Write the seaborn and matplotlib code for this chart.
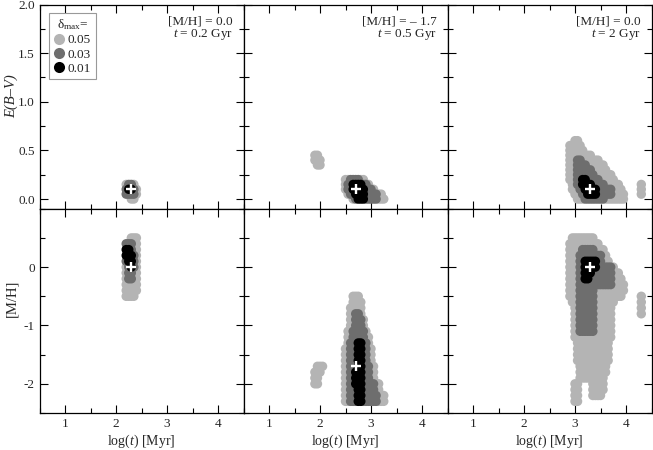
import numpy as np
import pandas as pd
import matplotlib
matplotlib.use("Agg")
import matplotlib.pyplot as plt
from matplotlib.lines import Line2D
from matplotlib.ticker import MultipleLocator, FixedLocator, FormatStrFormatter
import seaborn as sns

sns.set_theme(style="ticks")
plt.rcParams["font.family"] = ["Liberation Serif", "DejaVu Serif"]
plt.rcParams["mathtext.fontset"] = "custom"
plt.rcParams["mathtext.rm"] = "Liberation Serif"
plt.rcParams["mathtext.it"] = "Liberation Serif:italic"
plt.rcParams["axes.unicode_minus"] = False

# ---------------- data ----------------
DELTA_LEVELS = ["0.05", "0.03", "0.01"]
DELTA_CODES = {"a": "0.05", "b": "0.03", "c": "0.01"}
DELTA_COLORS = ["#b4b4b4", "#6e6e6e", "#000000"]

MH_TRUE = ["0.0", "\u2013 1.7", "0.0"]
AGE_TRUE = ["0.2", "0.5", "2"]
BEST_LOGT = [2.3, 2.7, 3.3]
BEST_EBV = [0.1, 0.1, 0.1]
BEST_MH = [0.0, -1.7, 0.0]

EBV_TICKS = [0.0, 0.5, 1.0, 1.5, 2.0]
MH_TICKS = [-2, -1, 0]
LOGT_TICKS = [1, 2, 3, 4]

LOGT_GRID_A = [2.15, 2.20, 2.25, 2.30, 2.35, 2.40, 2.45]
LOGT_GRID_B = [1.85, 1.90, 1.95, 2.00, 2.05, 2.10, 2.15, 2.20, 2.25, 2.30,
               2.35, 2.40, 2.45, 2.50, 2.55, 2.60, 2.65, 2.70, 2.75, 2.80,
               2.85, 2.90, 2.95, 3.00, 3.05, 3.10, 3.15, 3.20, 3.25, 3.30]
LOGT_GRID_C = [2.85, 2.90, 2.95, 3.00, 3.05, 3.10, 3.15, 3.20, 3.25, 3.30,
               3.35, 3.40, 3.45, 3.50, 3.55, 3.60, 3.65, 3.70, 3.75, 3.80,
               3.85, 3.90, 3.95, 4.00, 4.05, 4.10, 4.15, 4.20, 4.25, 4.30, 4.35]

# E(B-V) panels
EBV_ROWS_1 = [0.15, 0.10, 0.05, 0.00]
EBV_MASK_1 = [
    ".abba..",
    ".bccba.",
    ".bbbba.",
    "...aa..",
]
EBV_ROWS_2 = [0.45, 0.40, 0.35, 0.30, 0.25, 0.20, 0.15, 0.10, 0.05, 0.00]
EBV_MASK_2 = [
    ".aa...........................",
    ".aaa..........................",
    "..aa..........................",
    "..............................",
    "..............................",
    ".............aabbbbaa.........",
    ".............abbccccbba.......",
    ".............abbcccccbbba.....",
    "..............abbccccbbbbbaa..",
    "................abcccbbbbbaaa.",
]
EBV_ROWS_3 = [0.60, 0.55, 0.50, 0.45, 0.40, 0.35, 0.30, 0.25, 0.20, 0.15,
              0.10, 0.05, 0.00]
EBV_MASK_3 = [
    "...aa..........................",
    ".aaaaa.........................",
    ".aaaaaa........................",
    ".aaaaaaaaa.....................",
    ".aaabbaaaaaaa..................",
    ".aaabbbbaaaaaaa................",
    ".aaabbbbbbaaaaaa...............",
    ".aaabbbbbbbaaaaaaa.............",
    ".aaabbccbbbbbaaaaaa............",
    "..aabbccccbbbbbaaaaaa........a.",
    "..aaabbcccccbbbbbbaaaa.......a.",
    "...aaabbccccbbbbbbaaaaa......a.",
    "....aaabbbbbbbbaaaaaaaa........",
]

# [M/H] panels
MH_ROWS_1 = [0.5, 0.4, 0.3, 0.2, 0.1, 0.0, -0.1, -0.2, -0.3, -0.4, -0.5]
MH_MASK_1 = [
    "...aaa.",
    ".bbbaa.",
    ".ccbaa.",
    ".cccba.",
    ".bccba.",
    ".abcba.",
    ".abbaa.",
    ".abbaa.",
    ".aaaaa.",
    ".aaaaa.",
    ".aaaa..",
]
MH_ROWS_2 = [-0.5, -0.6, -0.7, -0.8, -0.9, -1.0, -1.1, -1.2, -1.3, -1.4,
             -1.5, -1.6, -1.7, -1.8, -1.9, -2.0, -2.1, -2.2, -2.3]
MH_MASK_2 = [
    "................aaa...........",
    "................aaaa..........",
    "...............aaaaa..........",
    "...............aabba..........",
    "...............aabbba.........",
    "...............aabbba.........",
    "..............aabbbbba........",
    "..............aabbbbbaa.......",
    "..............abbbccbba.......",
    ".............aabbbccbbaa......",
    ".............aabbbccbbaa......",
    ".............aabbbccbbaa......",
    "..aaa........aabbbccbbbaa.....",
    ".aaa.........aabbcccbbbaa.....",
    ".aa..........aabbcccbbbaa.....",
    ".aa..........aabbcccbbbbbaa...",
    ".............aabbbccbbbbbaa...",
    ".............aabbbccbbbbbbaaa.",
    ".............aabbbccbbbbbbaaa.",
]
MH_ROWS_3 = [0.5, 0.4, 0.3, 0.2, 0.1, 0.0, -0.1, -0.2, -0.3, -0.4, -0.5,
             -0.6, -0.7, -0.8, -0.9, -1.0, -1.1, -1.2, -1.3, -1.4, -1.5,
             -1.6, -1.7, -1.8, -1.9, -2.0, -2.1, -2.2, -2.3]
MH_MASK_3 = [
    "..aaaaaaaaa....................",
    ".aaaaaaaaaaaa..................",
    ".aaaaabbbbbaaaa................",
    ".aaaabbbbbbbbbaa...............",
    ".aaaabbcccccbbaaa..............",
    ".aaaabbcccccbbbbbba............",
    ".aaaabbcccbbbbbbbbaaa..........",
    ".aaaabbccbbbbbbbbbaaaa.........",
    ".aaaabbbbbbbbbbbbbaaaaa........",
    ".aaaabbbbbbaaaaaaaaaaaa........",
    ".aaaabbbbbbaaaaaaaaaaa.......a.",
    "..aaabbbbbbaaaaaaaa..........a.",
    "...aabbbbbbaaaaaaa...........a.",
    "...aabbbbbbaaaaaaa...........a.",
    "...aabbbbbbaaaaaaa.............",
    "...aabbbbbbaaaaaaa.............",
    "...aabbbbbbaaaaaaa.............",
    "...aaaaaaaaaaaaaaa.............",
    "....aaaaaaaaaaaaa..............",
    "....aaaaaaaaaaaaa..............",
    "....aaaaaaaaaaaaa..............",
    "....aaaaaaaaaaaaa..............",
    ".....aaaaaaaaaaa...............",
    ".....aaaaaaaaaaa...............",
    ".....aaaaaaaaaa................",
    "...aa.....aaaaa................",
    "...aa.....aaaaa................",
    "...aa.....aaaa.................",
    "...aa..........................",
]


def mask_frame(xgrid, ygrid, rows):
    recs = []
    for yv, row in zip(ygrid, rows):
        for xv, ch in zip(xgrid, row):
            if ch in DELTA_CODES:
                recs.append((xv, yv, DELTA_CODES[ch]))
    df = pd.DataFrame(recs, columns=["logt", "val", "delta"])
    df["order"] = df["delta"].map({d: i for i, d in enumerate(DELTA_LEVELS)})
    return df.sort_values("order", kind="stable")


panels_top = [
    mask_frame(LOGT_GRID_A, EBV_ROWS_1, EBV_MASK_1),
    mask_frame(LOGT_GRID_B, EBV_ROWS_2, EBV_MASK_2),
    mask_frame(LOGT_GRID_C, EBV_ROWS_3, EBV_MASK_3),
]
panels_bot = [
    mask_frame(LOGT_GRID_A, MH_ROWS_1, MH_MASK_1),
    mask_frame(LOGT_GRID_B, MH_ROWS_2, MH_MASK_2),
    mask_frame(LOGT_GRID_C, MH_ROWS_3, MH_MASK_3),
]

# ---------------- plot ----------------
W, H = 653, 450
fig, axes = plt.subplots(2, 3, figsize=(W / 100, H / 100), dpi=100,
                         sharex=True, sharey="row")
fig.subplots_adjust(left=39.5 / W, right=651.5 / W, top=1 - 4.5 / H,
                    bottom=1 - 413 / H, wspace=0, hspace=0)

MS = 46
for j in range(3):
    for i, (df, best_y) in enumerate([(panels_top[j], BEST_EBV[j]),
                                      (panels_bot[j], BEST_MH[j])]):
        ax = axes[i, j]
        sns.scatterplot(data=df, x="logt", y="val", hue="delta",
                        hue_order=DELTA_LEVELS, palette=DELTA_COLORS,
                        s=MS, linewidth=0, legend=False, ax=ax)
        sns.scatterplot(x=[BEST_LOGT[j]], y=[best_y], marker="+",
                        color="white", s=50, linewidth=1.7, ax=ax, zorder=5)
        ax.set_xlabel("")
        ax.set_ylabel("")

    axes[0, j].text(0.948, 0.915, f"[M/H] = {MH_TRUE[j]}", ha="right",
                    va="center", transform=axes[0, j].transAxes, fontsize=9.5)
    axes[0, j].text(0.948, 0.852, f"$t$ = {AGE_TRUE[j]} Gyr", ha="right",
                    va="center", transform=axes[0, j].transAxes, fontsize=9.5)
    axes[1, j].set_xlabel("log($t$) [Myr]", fontsize=10, labelpad=2)

for ax in axes.flat:
    ax.set_xlim(0.5, 4.5)
    ax.xaxis.set_major_locator(FixedLocator(LOGT_TICKS))
    ax.xaxis.set_minor_locator(MultipleLocator(0.5))
    ax.tick_params(which="both", direction="in", top=True, right=True,
                   labelsize=9.5, width=0.8, color="black")
    ax.tick_params(which="major", length=5.5)
    ax.tick_params(which="minor", length=3.5)
    for sp in ax.spines.values():
        sp.set_linewidth(0.9)
        sp.set_color("black")

axes[0, 0].set_ylim(-0.1, 2.0)
axes[0, 0].yaxis.set_major_locator(FixedLocator(EBV_TICKS))
axes[0, 0].yaxis.set_minor_locator(MultipleLocator(0.25))
axes[0, 0].yaxis.set_major_formatter(FormatStrFormatter("%.1f"))
axes[1, 0].set_ylim(-2.5, 1.0)
axes[1, 0].yaxis.set_major_locator(FixedLocator(MH_TICKS))
axes[1, 0].yaxis.set_minor_locator(MultipleLocator(0.5))
axes[1, 0].yaxis.set_major_formatter(FormatStrFormatter("%d"))

axes[0, 0].set_ylabel("E(B\u2013V)", fontstyle="italic", fontsize=10.5)
axes[1, 0].set_ylabel("[M/H]", fontsize=10.5)
axes[0, 0].yaxis.set_label_coords(-0.105, 0.55)
axes[1, 0].yaxis.set_label_coords(-0.105, 0.56)

handles = [Line2D([], [], marker="o", linestyle="", markersize=8,
                  markerfacecolor=c, markeredgewidth=0) for c in DELTA_COLORS]
leg = axes[0, 0].legend(handles, DELTA_LEVELS, title="\u03b4$_{\\mathrm{max}}$=",
                        loc="upper left", bbox_to_anchor=(0.045, 0.96),
                        borderaxespad=0, fontsize=9.5, title_fontsize=9.5,
                        frameon=True, fancybox=False, framealpha=1,
                        handlelength=0.8, handletextpad=0.3,
                        labelspacing=0.15, borderpad=0.35)
leg.get_frame().set_edgecolor("#999999")
leg.get_frame().set_linewidth(0.8)

fig.savefig("out.png", dpi=100)
